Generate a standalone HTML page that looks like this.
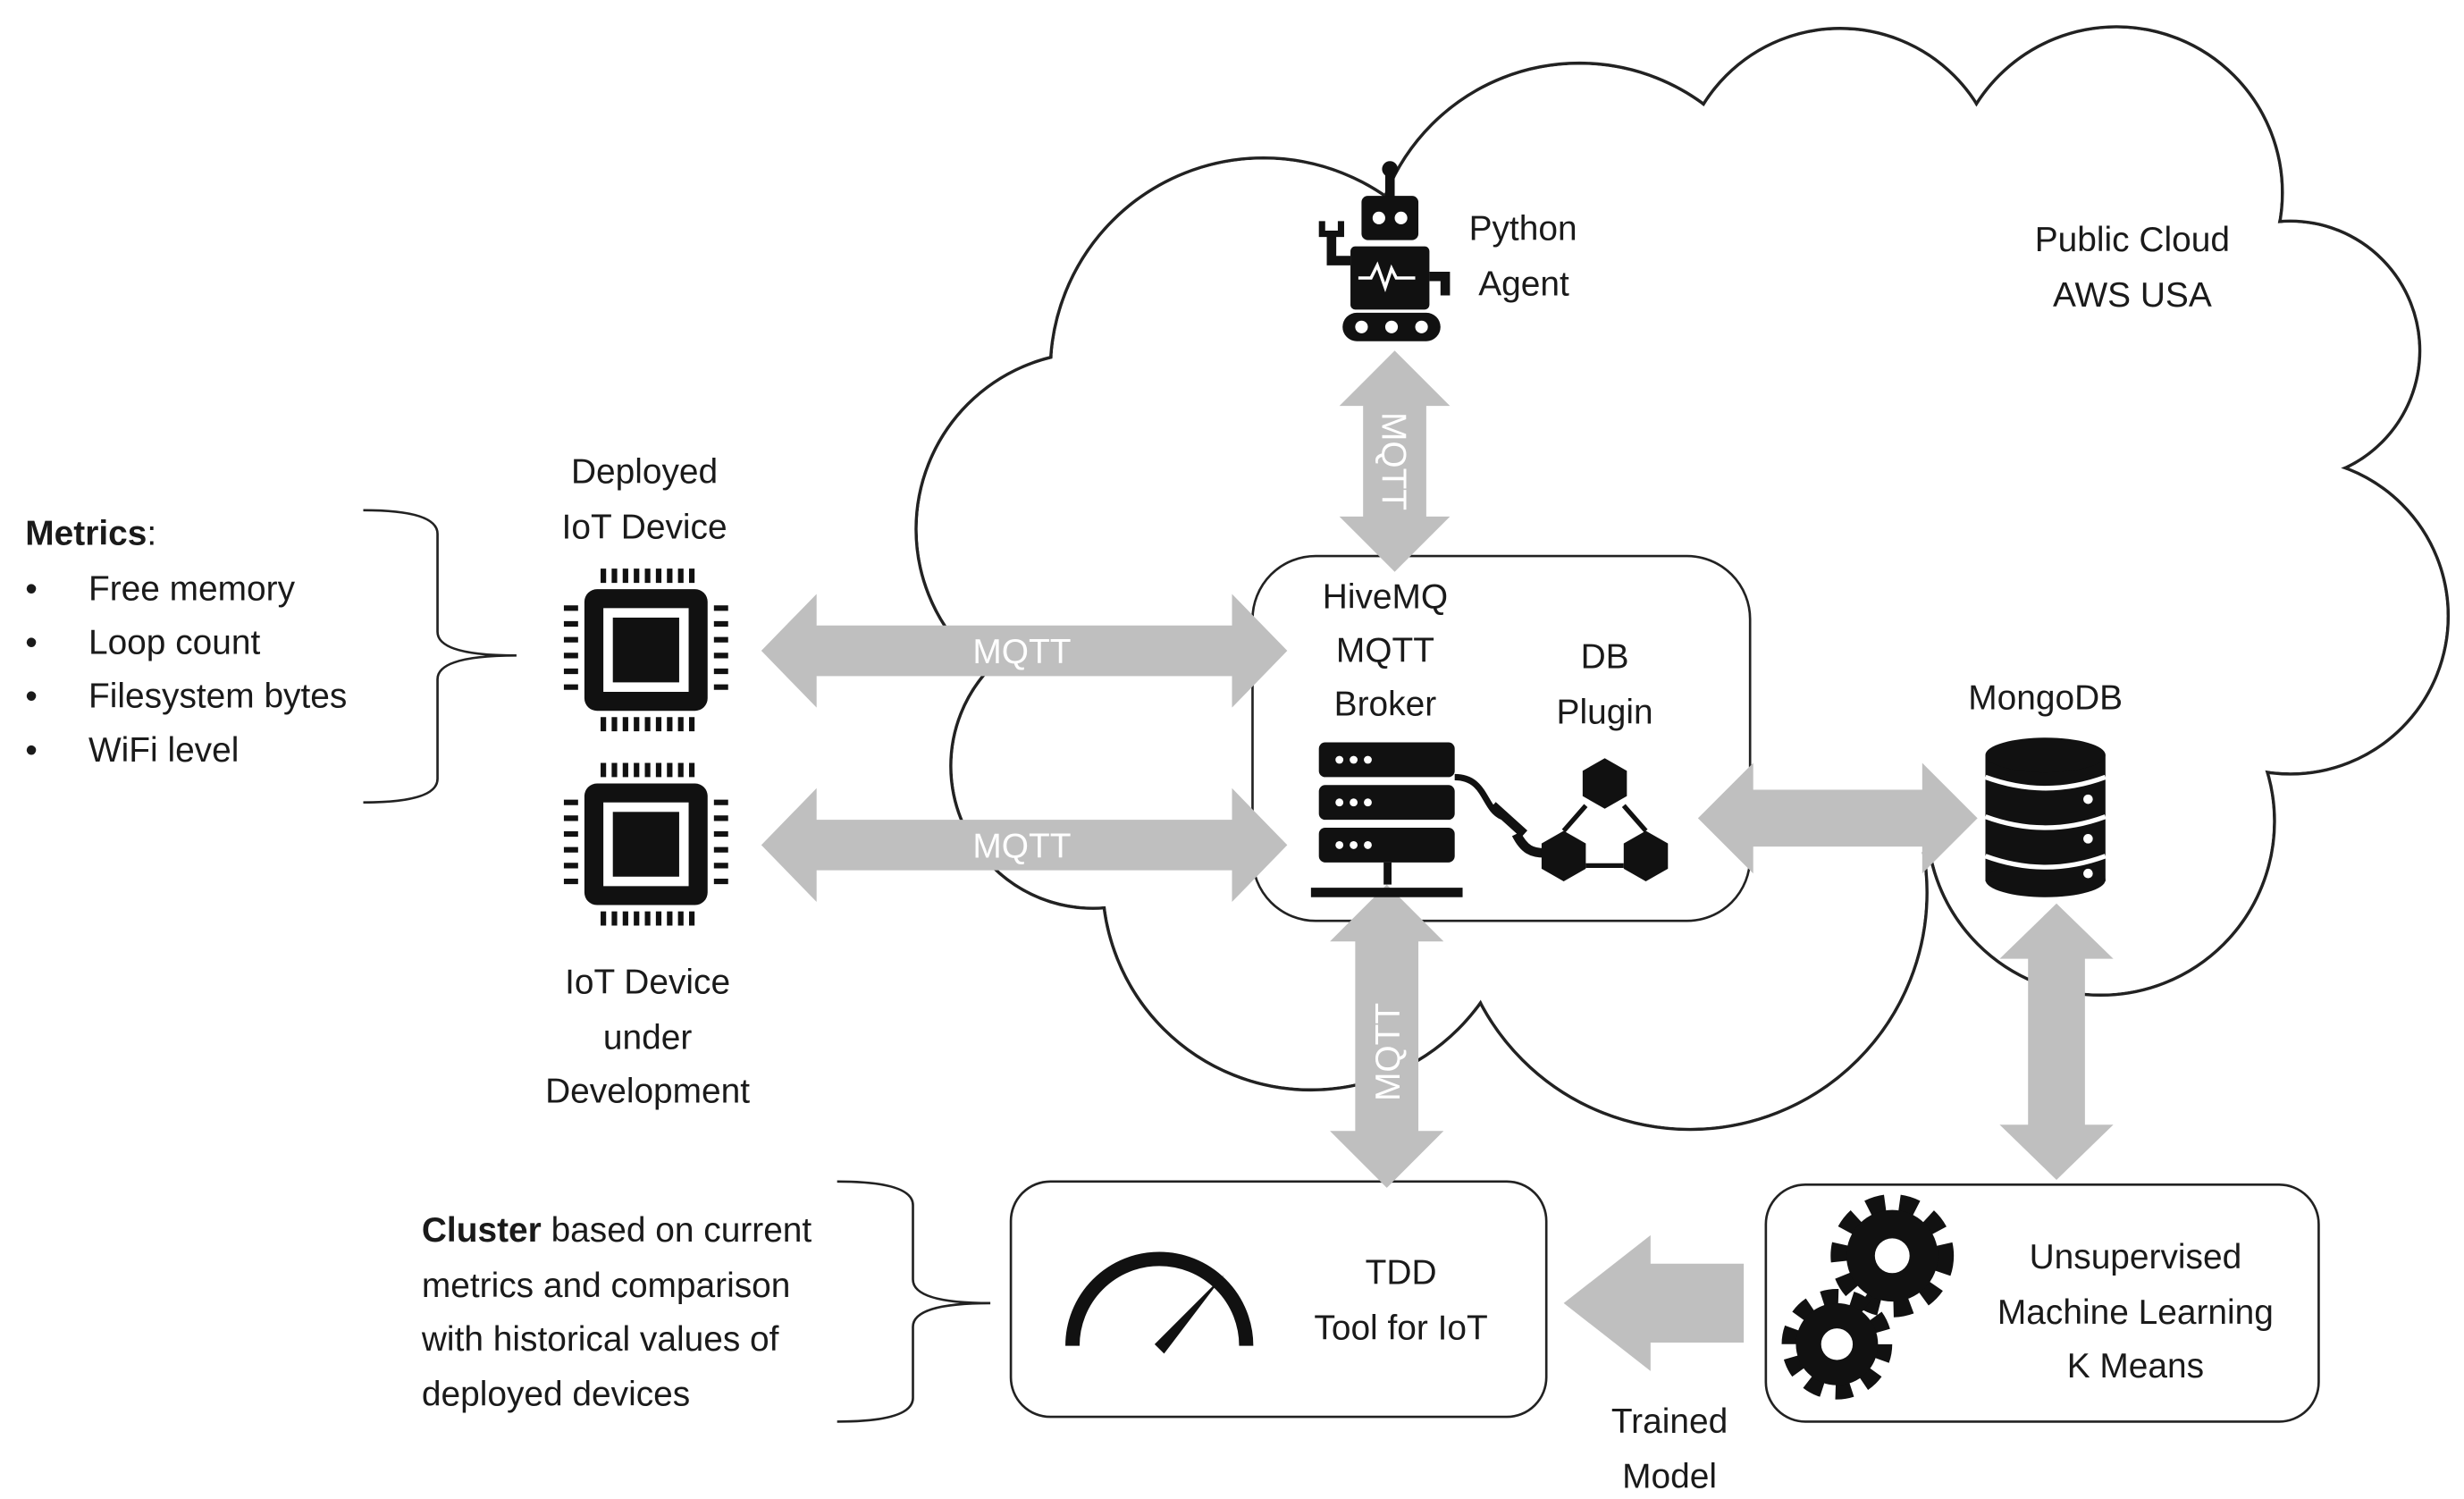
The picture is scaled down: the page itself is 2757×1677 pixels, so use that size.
<!DOCTYPE html>
<html><head><meta charset="utf-8"><style>
html,body{margin:0;padding:0;background:#fff}
svg{display:block}
text{font-family:"Liberation Sans",sans-serif;font-size:22px;fill:#1a1a1a}
.c{text-anchor:middle}
.w{fill:#fff}
</style></head><body>
<svg width="2757" height="1677" viewBox="0 0 1560 949" preserveAspectRatio="none" xmlns="http://www.w3.org/2000/svg">
<rect width="1560" height="949" fill="#fff"/>
<!-- cloud -->
<g stroke="#222" stroke-width="2" fill="#fff">
<circle cx="800" cy="235" r="135"/><circle cx="1000" cy="172" r="132"/><circle cx="1165" cy="120" r="102"/>
<circle cx="1340" cy="122" r="105"/><circle cx="1450" cy="222" r="82"/><circle cx="1450" cy="390" r="100"/>
<circle cx="1330" cy="520" r="110"/><circle cx="1070" cy="565" r="150"/><circle cx="830" cy="558" r="132"/>
<circle cx="692" cy="485" r="90"/><circle cx="692" cy="335" r="112"/>
</g>
<g fill="#fff">
<circle cx="800" cy="235" r="134"/><circle cx="1000" cy="172" r="131"/><circle cx="1165" cy="120" r="101"/>
<circle cx="1340" cy="122" r="104"/><circle cx="1450" cy="222" r="81"/><circle cx="1450" cy="390" r="99"/>
<circle cx="1330" cy="520" r="109"/><circle cx="1070" cy="565" r="149"/><circle cx="830" cy="558" r="131"/>
<circle cx="692" cy="485" r="89"/><circle cx="692" cy="335" r="111"/>
<polygon points="800,235 1000,172 1165,120 1340,122 1450,222 1450,390 1330,520 1070,565 830,558 692,485 692,335"/>
</g>
<!-- boxes -->
<rect x="793" y="352" width="315" height="231" rx="40" fill="#fff" stroke="#222" stroke-width="1.5"/>
<rect x="640" y="748" width="339" height="149" rx="25" fill="#fff" stroke="#222" stroke-width="1.5"/>
<rect x="1118" y="750" width="350" height="150" rx="25" fill="#fff" stroke="#222" stroke-width="1.5"/>
<!-- arrows -->
<g fill="#bfbfbf">
<polygon points="482,412 517,376 517,396 780,396 780,376 815,412 780,448 780,428 517,428 517,448"/>
<polygon points="482,535 517,499 517,519 780,519 780,499 815,535 780,571 780,551 517,551 517,571"/>
<polygon points="1075,518 1110,483 1110,500 1217,500 1217,483 1252,518 1217,553 1217,536 1110,536 1110,553"/>
<polygon points="883,222 918,257 903,257 903,327 918,327 883,362 848,327 863,327 863,257 848,257"/>
<polygon points="878,560 914,596 898,596 898,716 914,716 878,752 842,716 858,716 858,596 842,596"/>
<polygon points="1302,572 1338,607 1320,607 1320,712 1338,712 1302,747 1266,712 1284,712 1284,607 1266,607"/>
<polygon points="990,825 1045,782 1045,800 1104,800 1104,850 1045,850 1045,868"/>
</g>
<text class="c w" x="647" y="420">MQTT</text>
<text class="c w" x="647" y="543">MQTT</text>
<text class="c w" transform="translate(875,292) rotate(90)">MQTT</text>
<text class="c w" transform="translate(886,666) rotate(-90)">MQTT</text>
<!-- chips -->
<g id="chip">
<rect x="370" y="373" width="78" height="77" rx="8" fill="#111"/>
<rect x="382" y="385" width="54" height="53" fill="#fff"/>
<rect x="388" y="391" width="42" height="41" fill="#111"/>
<g stroke="#111" stroke-width="3.5">
<path d="M382 360v9M389 360v9M396 360v9M403 360v9M410 360v9M417 360v9M424 360v9M431 360v9M438 360v9"/>
<path d="M382 454v9M389 454v9M396 454v9M403 454v9M410 454v9M417 454v9M424 454v9M431 454v9M438 454v9"/>
<path d="M357 385h9M357 395h9M357 405h9M357 415h9M357 425h9M357 435h9"/>
<path d="M452 385h9M452 395h9M452 405h9M452 415h9M452 425h9M452 435h9"/>
</g></g>
<use href="#chip" transform="translate(0,123)"/>
<!-- robot -->
<g fill="#111">
<rect x="877" y="107" width="6" height="18"/><circle cx="880" cy="107" r="5"/>
<rect x="862" y="124" width="36" height="28" rx="4"/>
<circle cx="873" cy="138" r="4" fill="#fff"/><circle cx="887" cy="138" r="4" fill="#fff"/>
<rect x="855" y="156" width="50" height="40" rx="3"/>
<path d="M860 176h8l4-8 5 14 4-12 3 6h12" stroke="#fff" stroke-width="2" fill="none"/>
<path d="M855 165h-12v-18" stroke="#111" stroke-width="6" fill="none"/>
<path d="M837 140v8h12v-8" stroke="#111" stroke-width="4" fill="none"/>
<path d="M905 175h10v12" stroke="#111" stroke-width="6" fill="none"/>
<rect x="850" y="198" width="62" height="18" rx="9"/>
<circle cx="862" cy="207" r="4" fill="#fff"/><circle cx="881" cy="207" r="4" fill="#fff"/><circle cx="900" cy="207" r="4" fill="#fff"/>
</g>
<!-- server -->
<g fill="#111">
<rect x="835" y="470" width="86" height="22" rx="4"/><rect x="835" y="497" width="86" height="22" rx="4"/><rect x="835" y="524" width="86" height="22" rx="4"/>
<rect x="876" y="546" width="5" height="14"/><rect x="830" y="562" width="96" height="6"/>
</g>
<g fill="#fff"><circle cx="848" cy="481" r="2.5"/><circle cx="857" cy="481" r="2.5"/><circle cx="866" cy="481" r="2.5"/>
<circle cx="848" cy="508" r="2.5"/><circle cx="857" cy="508" r="2.5"/><circle cx="866" cy="508" r="2.5"/>
<circle cx="848" cy="535" r="2.5"/><circle cx="857" cy="535" r="2.5"/><circle cx="866" cy="535" r="2.5"/></g>
<!-- plugin -->
<path d="M921 492c20 0 18 20 30 25" stroke="#111" stroke-width="4" fill="none"/>
<path d="M945 510l20 18M960 528c5 10 10 12 18 12" stroke="#111" stroke-width="6" fill="none"/>
<g fill="#111">
<polygon points="1016,480 1030,488 1030,504 1016,512 1002,504 1002,488"/>
<polygon points="990,526 1004,534 1004,550 990,558 976,550 976,534"/>
<polygon points="1042,526 1056,534 1056,550 1042,558 1028,550 1028,534"/>
</g>
<path d="M1004 510l-14 16M1028 510l14 16M1004 548h24" stroke="#111" stroke-width="3" fill="none"/>
<!-- DB -->
<g fill="#111">
<rect x="1257" y="478" width="76" height="80"/>
<ellipse cx="1295" cy="478" rx="38" ry="11"/><ellipse cx="1295" cy="557" rx="38" ry="11"/>
</g>
<g stroke="#fff" stroke-width="3" fill="none">
<path d="M1257 492q38 14 76 0M1257 517q38 14 76 0M1257 542q38 14 76 0"/></g>
<g fill="#fff"><circle cx="1322" cy="506" r="3"/><circle cx="1322" cy="531" r="3"/><circle cx="1322" cy="553" r="3"/></g>
<!-- gauge -->
<path d="M679 852a55 55 0 0 1 110 0" stroke="#111" stroke-width="9" fill="none"/>
<path d="M731 851l44 -44l-38 50z" fill="#111"/>
<!-- gears -->
<g>
<circle cx="1198" cy="795" r="33" fill="none" stroke="#111" stroke-width="12" stroke-dasharray="11 9"/>
<circle cx="1198" cy="795" r="29" fill="#111"/><circle cx="1198" cy="795" r="11" fill="#fff"/>
<circle cx="1163" cy="851" r="29" fill="none" stroke="#111" stroke-width="12" stroke-dasharray="10 8.2"/>
<circle cx="1163" cy="851" r="26" fill="#111"/><circle cx="1163" cy="851" r="10" fill="#fff"/>
</g>
<!-- braces -->
<path d="M230 323q47 0 47 15v62q0 15 50 15q-50 0 -50 15v63q0 15 -47 15" stroke="#222" stroke-width="1.5" fill="none"/>
<path d="M530 748q48 0 48 15v47q0 15 49 15q-49 0 -49 15v45q0 15 -48 15" stroke="#222" stroke-width="1.5" fill="none"/>
<!-- text -->
<text x="930" y="152">Python</text><text x="936" y="187">Agent</text>
<text class="c" x="1350" y="159">Public Cloud</text><text class="c" x="1350" y="194">AWS USA</text>
<text class="c" x="877" y="385">HiveMQ</text><text class="c" x="877" y="419">MQTT</text><text class="c" x="877" y="453">Broker</text>
<text class="c" x="1016" y="423">DB</text><text class="c" x="1016" y="458">Plugin</text>
<text class="c" x="1295" y="449">MongoDB</text>
<text class="c" x="408" y="306">Deployed</text><text class="c" x="408" y="341">IoT Device</text>
<text class="c" x="410" y="629">IoT Device</text><text class="c" x="410" y="664">under</text><text class="c" x="410" y="698">Development</text>
<text x="16" y="345"><tspan font-weight="bold">Metrics</tspan>:</text>
<text x="16" y="380">•</text><text x="56" y="380">Free memory</text>
<text x="16" y="414">•</text><text x="56" y="414">Loop count</text>
<text x="16" y="448">•</text><text x="56" y="448">Filesystem bytes</text>
<text x="16" y="482">•</text><text x="56" y="482">WiFi level</text>
<text class="c" x="887" y="813">TDD</text><text class="c" x="887" y="848">Tool for IoT</text>
<text class="c" x="1352" y="803">Unsupervised</text><text class="c" x="1352" y="838">Machine Learning</text><text class="c" x="1352" y="872">K Means</text>
<text class="c" x="1057" y="907">Trained</text><text class="c" x="1057" y="942">Model</text>
<text x="267" y="786"><tspan font-weight="bold">Cluster</tspan> based on current</text>
<text x="267" y="821">metrics and comparison</text>
<text x="267" y="855">with historical values of</text>
<text x="267" y="890">deployed devices</text>
</svg>
</body></html>
